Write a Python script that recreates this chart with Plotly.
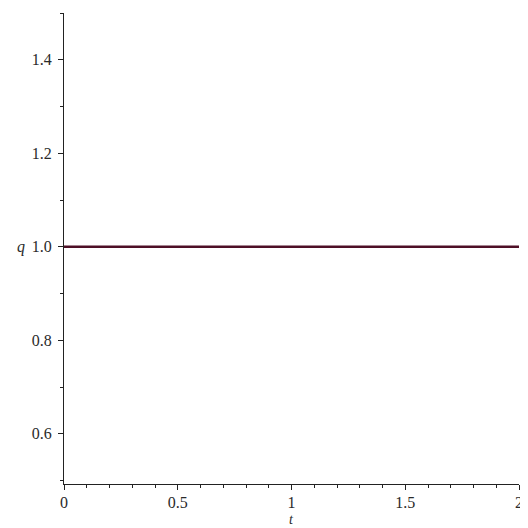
import plotly.graph_objects as go

t_values = [0.0, 0.5, 1.0, 1.5, 2.0]
q_values = [1.0, 1.0, 1.0, 1.0, 1.0]

x_tickvals = [0, 0.5, 1, 1.5, 2]
x_ticktext = ["0", "0.5", "1", "1.5", "2"]
y_tickvals = [0.6, 0.8, 1.0, 1.2, 1.4]
y_ticktext = ["0.6", "0.8", "1.0", "1.2", "1.4"]

font_family = "Liberation Serif, Times New Roman, serif"

fig = go.Figure()
fig.add_trace(go.Scatter(
    x=t_values, y=q_values, mode="lines",
    line=dict(color="#4e0f26", width=2.5),
    showlegend=False,
))

axis_common = dict(
    showline=True, linecolor="#222222", linewidth=1.2,
    ticks="outside", ticklen=5, tickwidth=1, tickcolor="#222222",
    showgrid=False, zeroline=False,
    tickfont=dict(family=font_family, size=16, color="#2a2a2a"),
)

fig.update_xaxes(
    range=[0, 2], tickvals=x_tickvals, ticktext=x_ticktext,
    ticklabelstandoff=-1,
    minor=dict(dtick=0.1, tick0=0, ticklen=3, ticks="outside", tickcolor="#222222", showgrid=False),
    **axis_common,
)
fig.update_yaxes(
    range=[0.4925, 1.5], tickvals=y_tickvals, ticktext=y_ticktext,
    ticklabelstandoff=3,
    minor=dict(dtick=0.1, tick0=0.5, ticklen=3, ticks="outside", tickcolor="#222222", showgrid=False),
    **axis_common,
)

fig.add_annotation(
    text="<i>q</i>", xref="paper", yref="y", x=-0.095, y=1.0,
    showarrow=False, xanchor="center", yanchor="middle",
    font=dict(family=font_family, size=16, color="#2a2a2a"),
)
fig.add_annotation(
    text="<i>t</i>", xref="x", yref="paper", x=1.0, y=-0.075,
    showarrow=False, xanchor="center", yanchor="middle",
    font=dict(family=font_family, size=14, color="#2a2a2a"),
)

fig.update_layout(
    width=520, height=520,
    margin=dict(l=56, r=5, t=5, b=44),
    paper_bgcolor="white", plot_bgcolor="white",
)

fig.write_html("out.html")
